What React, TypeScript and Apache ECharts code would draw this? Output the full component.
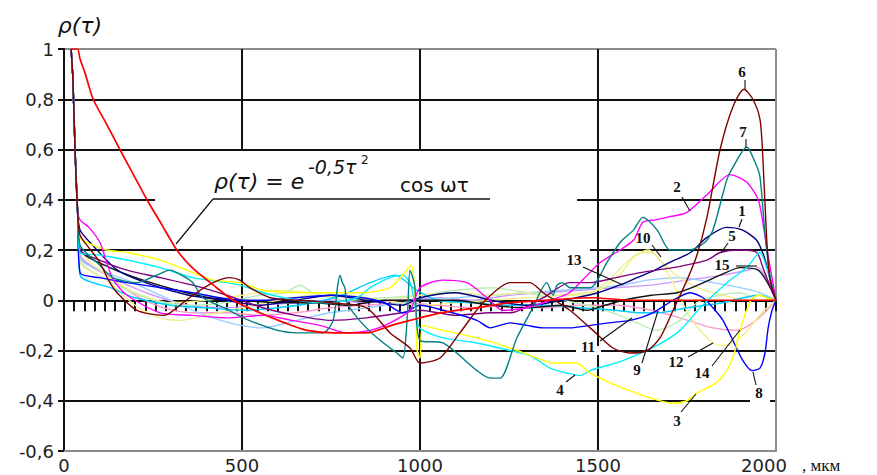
import { useEffect, useRef } from "react";
import * as echarts from "echarts";

type Pt = [number, number];

// Axis ranges and tick steps
const X_RANGE: Pt = [0, 2000];
const Y_RANGE: Pt = [-0.6, 1];
const X_STEP = 500;
const Y_STEP = 0.2;
const ZERO_TICK_COUNT = 70;

// Correlation curves 1..15, the black curve and the theoretical (red) curve
const curve1: Pt[] = [[20,1],[25,0.88],[31,0.6],[38,0.36],[45,0.28],[80,0.22],[150,0.12],[250,0.06],[350,0.02],[450,0.0],[550,-0.02],[650,0.0],[750,0.02],[850,0.0],[950,-0.02],[1000,0.01],[1100,0.03],[1200,0.0],[1300,-0.02],[1400,0.0],[1500,0.03],[1560,0.06],[1610,0.09],[1660,0.12],[1700,0.15],[1760,0.19],[1806,0.25],[1860,0.29],[1905,0.28],[1945,0.24],[1965,0.18],[1985,0.08],[2000,0]];
const curve2: Pt[] = [[20,1],[25,0.88],[31,0.6],[38,0.36],[45,0.32],[70,0.29],[101,0.23],[120,0.15],[139,0.08],[177,0.02],[270,-0.05],[360,-0.06],[457,-0.07],[560,-0.06],[640,-0.08],[719,-0.1],[795,-0.13],[860,-0.12],[916,-0.09],[972,-0.04],[1000,0.05],[1065,0.08],[1132,0.07],[1188,0.01],[1233,-0.04],[1300,-0.03],[1365,0.0],[1420,0.03],[1470,0.1],[1506,0.15],[1562,0.2],[1600,0.24],[1626,0.31],[1660,0.32],[1694,0.33],[1750,0.35],[1806,0.42],[1871,0.5],[1918,0.47],[1950,0.4],[1963,0.31],[1975,0.2],[1990,0.08],[2000,0]];
const curve3: Pt[] = [[20,1],[25,0.88],[31,0.6],[38,0.36],[45,0.25],[80,0.22],[120,0.2],[177,0.19],[270,0.16],[362,0.11],[419,0.08],[494,0.07],[559,0.04],[683,0.03],[747,0.03],[840,0.03],[916,0.05],[963,0.12],[975,0.14],[985,0.05],[992,-0.2],[1000,-0.23],[1008,-0.1],[1065,-0.12],[1160,-0.15],[1253,-0.19],[1329,-0.23],[1374,-0.25],[1440,-0.25],[1478,-0.29],[1570,-0.35],[1650,-0.39],[1711,-0.41],[1750,-0.4],[1778,-0.37],[1830,-0.33],[1862,-0.28],[1885,-0.2],[1899,-0.12],[1915,-0.05],[1930,0.0],[1950,0.02],[1975,0.01],[2000,0]];
const curve4: Pt[] = [[20,1],[25,0.88],[31,0.6],[38,0.36],[45,0.19],[100,0.18],[177,0.16],[270,0.13],[362,0.09],[457,0.07],[494,0.06],[559,0.03],[654,0.0],[740,-0.01],[823,0.01],[860,0.05],[916,0.09],[952,0.1],[975,0.06],[995,-0.1],[1009,-0.12],[1065,-0.15],[1160,-0.17],[1253,-0.2],[1309,-0.22],[1365,-0.27],[1413,-0.29],[1450,-0.3],[1478,-0.28],[1570,-0.24],[1666,-0.18],[1730,-0.12],[1787,-0.03],[1862,0.07],[1918,0.13],[1955,0.19],[1980,0.1],[2000,0]];
const curve5: Pt[] = [[20,1],[25,0.88],[31,0.6],[38,0.36],[45,0.2],[100,0.16],[177,0.12],[270,0.09],[362,0.06],[457,0.02],[559,-0.03],[650,-0.06],[750,-0.08],[850,-0.07],[950,-0.05],[1000,-0.04],[1100,-0.06],[1200,-0.05],[1253,-0.05],[1346,0.01],[1421,0.07],[1478,0.07],[1550,0.09],[1618,0.11],[1711,0.13],[1806,0.16],[1843,0.19],[1899,0.2],[1946,0.19],[1963,0.13],[1985,0.05],[2000,0]];
const curve6: Pt[] = [[20,1],[25,0.88],[31,0.6],[38,0.36],[45,0.26],[75,0.2],[101,0.15],[125,0.08],[149,0.03],[205,-0.04],[278,-0.06],[298,-0.05],[362,0.02],[419,0.07],[466,0.09],[494,0.08],[522,0.05],[579,0.01],[654,0.0],[750,-0.01],[850,-0.03],[916,-0.13],[972,-0.19],[1000,-0.25],[1056,-0.23],[1112,-0.13],[1177,-0.01],[1253,0.07],[1309,0.07],[1346,0.03],[1421,-0.04],[1478,-0.11],[1542,-0.19],[1590,-0.21],[1638,-0.2],[1674,-0.15],[1711,-0.04],[1750,0.08],[1778,0.18],[1806,0.33],[1843,0.6],[1879,0.77],[1910,0.84],[1935,0.8],[1955,0.72],[1963,0.57],[1974,0.24],[1983,0.08],[2000,0]];
const curve7: Pt[] = [[20,1],[25,0.88],[31,0.6],[38,0.36],[45,0.22],[100,0.14],[137,0.09],[205,0.07],[260,0.1],[298,0.12],[330,0.1],[362,0.07],[390,0.01],[450,-0.03],[520,-0.08],[600,-0.12],[654,-0.13],[728,-0.13],[756,-0.08],[768,0.05],[775,0.1],[782,0.07],[789,0.05],[795,-0.01],[830,-0.08],[880,-0.15],[935,-0.21],[952,-0.23],[965,-0.05],[972,0.12],[985,0.06],[1000,-0.16],[1065,-0.17],[1160,-0.28],[1197,-0.31],[1225,-0.31],[1272,-0.15],[1317,-0.03],[1356,0.07],[1374,0.02],[1385,0.06],[1400,0.07],[1421,0.05],[1478,0.05],[1525,0.15],[1562,0.23],[1600,0.28],[1626,0.33],[1666,0.28],[1702,0.2],[1758,0.2],[1800,0.23],[1823,0.28],[1862,0.48],[1879,0.53],[1918,0.61],[1941,0.55],[1955,0.49],[1970,0.25],[1985,0.08],[2000,0]];
const curve8: Pt[] = [[20,1],[25,0.88],[31,0.6],[38,0.36],[45,0.11],[100,0.09],[177,0.07],[270,0.05],[362,0.03],[494,0.0],[559,0.0],[650,0.01],[750,0.02],[840,0.01],[900,-0.01],[952,-0.05],[1000,-0.02],[1065,-0.04],[1160,-0.08],[1197,-0.11],[1253,-0.09],[1300,-0.1],[1346,-0.11],[1421,-0.11],[1478,-0.1],[1530,-0.09],[1590,-0.08],[1654,-0.05],[1711,0.0],[1758,0.03],[1795,0.01],[1823,-0.03],[1851,-0.08],[1879,-0.16],[1907,-0.24],[1933,-0.28],[1955,-0.27],[1969,-0.21],[1978,-0.11],[1989,-0.04],[2000,0]];
const curve9: Pt[] = [[20,1],[25,0.88],[31,0.6],[38,0.36],[45,0.1],[130,0.05],[200,0.01],[300,-0.02],[400,-0.03],[500,-0.04],[600,-0.03],[700,-0.01],[780,0.02],[860,0.07],[930,0.1],[990,0.04],[1050,0.0],[1150,-0.01],[1250,-0.02],[1350,-0.02],[1450,-0.03],[1550,-0.04],[1620,-0.05],[1668,-0.05],[1750,-0.03],[1850,-0.01],[1950,0.02],[2000,0]];
const curve10: Pt[] = [[20,1],[25,0.88],[31,0.6],[38,0.36],[45,0.15],[120,0.08],[200,-0.02],[270,-0.07],[330,-0.08],[400,-0.06],[500,-0.03],[600,0.0],[700,0.02],[800,0.01],[900,0.0],[1000,0.02],[1100,0.03],[1200,0.02],[1300,0.03],[1400,0.02],[1480,0.03],[1530,0.08],[1580,0.15],[1620,0.19],[1650,0.19],[1680,0.15],[1720,0.1],[1780,0.05],[1850,0.02],[1920,0.0],[2000,0]];
const curve11: Pt[] = [[20,1],[25,0.88],[31,0.6],[38,0.36],[45,0.16],[150,0.06],[250,0.0],[350,-0.02],[450,-0.01],[550,0.02],[620,0.03],[663,0.06],[700,0.03],[800,0.0],[900,0.01],[1000,0.02],[1100,0.04],[1200,0.05],[1300,0.03],[1400,0.0],[1500,-0.03],[1560,-0.06],[1610,-0.09],[1666,-0.12],[1730,-0.08],[1778,-0.01],[1840,0.02],[1899,0.03],[1955,0.0],[2000,0]];
const curve12: Pt[] = [[20,1],[25,0.88],[31,0.6],[38,0.36],[45,0.2],[120,0.1],[200,0.03],[300,-0.01],[400,0.0],[500,0.02],[600,0.04],[700,0.03],[800,0.02],[900,0.0],[1000,-0.02],[1100,-0.01],[1200,0.0],[1300,0.01],[1400,0.02],[1500,0.04],[1560,0.1],[1600,0.17],[1640,0.2],[1680,0.15],[1720,0.04],[1760,-0.07],[1800,-0.14],[1840,-0.18],[1880,-0.17],[1920,-0.12],[1960,-0.05],[2000,0]];
const curve13: Pt[] = [[20,1],[25,0.88],[31,0.6],[38,0.36],[45,0.17],[81,0.13],[177,0.08],[270,0.02],[362,-0.04],[466,-0.09],[559,-0.11],[654,-0.08],[747,-0.05],[850,-0.03],[950,-0.01],[1000,0.0],[1100,0.01],[1200,0.02],[1300,0.03],[1400,0.04],[1500,0.05],[1570,0.06],[1638,0.08],[1730,0.09],[1823,0.07],[1899,0.05],[1955,0.03],[2000,0]];
const curve14: Pt[] = [[20,1],[25,0.88],[31,0.6],[38,0.36],[45,0.17],[120,0.1],[200,0.02],[280,-0.03],[362,-0.05],[457,-0.05],[550,-0.06],[650,-0.05],[750,-0.03],[850,-0.02],[950,-0.01],[1050,-0.02],[1150,-0.03],[1250,-0.02],[1350,-0.03],[1450,-0.02],[1550,-0.02],[1650,-0.04],[1730,-0.07],[1823,-0.11],[1890,-0.12],[1935,-0.09],[1974,-0.04],[2000,0]];
const curve15: Pt[] = [[20,1],[25,0.88],[31,0.6],[38,0.36],[45,0.18],[150,0.08],[250,0.02],[350,-0.02],[450,-0.03],[550,-0.02],[650,-0.01],[750,0.0],[850,-0.01],[950,0.0],[1050,0.01],[1150,0.0],[1250,0.02],[1350,0.03],[1450,0.04],[1550,0.05],[1650,0.06],[1750,0.08],[1850,0.1],[1920,0.12],[1950,0.13],[1975,0.08],[2000,0]];
const curveBlack: Pt[] = [[20,1],[25,0.88],[31,0.6],[38,0.36],[45,0.2],[129,0.13],[222,0.08],[317,0.04],[410,0.01],[494,0.0],[600,-0.01],[700,-0.01],[800,-0.02],[900,0.0],[1000,0.0],[1100,0.0],[1200,-0.02],[1300,-0.03],[1400,-0.02],[1469,-0.04],[1520,-0.02],[1570,0.0],[1650,0.02],[1722,0.03],[1780,0.06],[1843,0.1],[1900,0.13],[1950,0.12],[1980,0.06],[2000,0]];
const curveTheory: Pt[] = [[20,1],[38,1],[45,0.96],[60,0.9],[82,0.8],[120,0.7],[157,0.6],[195,0.5],[233,0.4],[275,0.3],[317,0.2],[360,0.13],[420,0.06],[475,0.0],[550,-0.05],[620,-0.09],[683,-0.12],[760,-0.13],[850,-0.13],[920,-0.1],[972,-0.08],[1060,-0.05],[1160,-0.03],[1250,-0.01],[1350,0.0],[1478,0.01],[1600,0.0],[1800,0.0],[1950,0.0],[2000,0.0]];

const curves: { name: string; data: Pt[]; color: string }[] = [
  { name: "14", data: curve14, color: "#ff99cc" },
  { name: "15", data: curve15, color: "#cc99ff" },
  { name: "13", data: curve13, color: "#99ccff" },
  { name: "12", data: curve12, color: "#f4f08a" },
  { name: "11", data: curve11, color: "#b8efb8" },
  { name: "10", data: curve10, color: "#eeee90" },
  { name: "9", data: curve9, color: "#00ccff" },
  { name: "black", data: curveBlack, color: "#111111" },
  { name: "1", data: curve1, color: "#000080" },
  { name: "5", data: curve5, color: "#800080" },
  { name: "8", data: curve8, color: "#0000ff" },
  { name: "4", data: curve4, color: "#00f0ff" },
  { name: "3", data: curve3, color: "#ffff00" },
  { name: "2", data: curve2, color: "#ff00ff" },
  { name: "7", data: curve7, color: "#008080" },
  { name: "6", data: curve6, color: "#800000" },
];

// Curve number labels: text, label centre, leader line start and end
const curveLabels: { text: string; at: Pt; from: Pt; to: Pt }[] = [
  { text: "6", at: [742, 72], from: [745, 80], to: [745, 89] },
  { text: "7", at: [743, 132], from: [746, 139], to: [746, 148] },
  { text: "2", at: [677, 187], from: [682, 197], to: [690, 211] },
  { text: "1", at: [742, 211], from: [742, 219], to: [739, 227] },
  { text: "10", at: [643, 238], from: [652, 245], to: [661, 257] },
  { text: "5", at: [732, 236], from: [728, 243], to: [721, 253] },
  { text: "13", at: [574, 260], from: [583, 267], to: [623, 285] },
  { text: "15", at: [722, 265], from: [736, 266], to: [757, 266] },
  { text: "11", at: [588, 347], from: [600, 341], to: [632, 318] },
  { text: "9", at: [637, 370], from: [642, 363], to: [658, 311] },
  { text: "12", at: [676, 362], from: [688, 357], to: [713, 343] },
  { text: "14", at: [702, 373], from: [712, 366], to: [740, 330] },
  { text: "8", at: [759, 393], from: [756, 385], to: [753, 372] },
  { text: "3", at: [677, 421], from: [681, 412], to: [696, 394] },
  { text: "4", at: [560, 390], from: [566, 382], to: [575, 375] },
];

const fmtY = (v: number) => {
  const r = Math.round(v * 10) / 10;
  if (r === 0) return "0";
  if (r === 1) return "1";
  return r.toFixed(1).replace(".", ",");
};

export default function App() {
  const ref = useRef<HTMLDivElement>(null);

  useEffect(() => {
    if (!ref.current) return;
    const chart = echarts.init(ref.current, undefined, { renderer: "svg" });
    const black = "#111111";
    const grey = "#8c8c8c";
    const labelFont = "DejaVu Sans";

    const graphics: any[] = [
      // clear area behind the formula
      { type: "rect", z: 1, shape: { x: 155, y: 151, width: 422, height: 95 }, style: { fill: "#fff" } },
      { type: "rect", z: 1, shape: { x: 560, y: 247, width: 30, height: 8 }, style: { fill: "#fff" } },
      { type: "rect", z: 1, shape: { x: 576, y: 346, width: 25, height: 9 }, style: { fill: "#fff" } },
      { type: "rect", z: 1, shape: { x: 750, y: 396, width: 20, height: 9 }, style: { fill: "#fff" } },
      // formula and its leader
      { type: "line", z: 10, shape: { x1: 213, y1: 199, x2: 490, y2: 199 }, style: { stroke: black, lineWidth: 1.6 } },
      { type: "line", z: 10, shape: { x1: 213, y1: 199, x2: 176, y2: 244 }, style: { stroke: black, lineWidth: 1.2 } },
      { type: "text", z: 10, x: 214, y: 181, style: { text: "ρ(τ) = e", fontSize: 22, fontFamily: labelFont, fontStyle: "italic", fill: black, align: "left", verticalAlign: "middle" } },
      { type: "text", z: 10, x: 308, y: 167, style: { text: "-0,5τ", fontSize: 19, fontFamily: labelFont, fontStyle: "italic", fill: black, align: "left", verticalAlign: "middle" } },
      { type: "text", z: 10, x: 361, y: 160, style: { text: "2", fontSize: 12, fontFamily: labelFont, fill: black, align: "left", verticalAlign: "middle" } },
      { type: "text", z: 10, x: 400, y: 185, style: { text: "cos ωτ", fontSize: 20, fontFamily: labelFont, fill: black, align: "left", verticalAlign: "middle" } },
      // axis titles
      { type: "text", z: 10, x: 80, y: 25, style: { text: "ρ(τ)", fontSize: 22, fontFamily: labelFont, fontStyle: "italic", fill: black, align: "center", verticalAlign: "middle" } },
      { type: "text", z: 10, x: 802, y: 465, style: { text: ", мкм", fontSize: 17, fontFamily: "Liberation Serif", fill: black, align: "left", verticalAlign: "middle" } },
    ];
    curveLabels.forEach((l) => {
      graphics.push({ type: "line", z: 10, shape: { x1: l.from[0], y1: l.from[1], x2: l.to[0], y2: l.to[1] }, style: { stroke: black, lineWidth: 1.1 } });
      graphics.push({ type: "text", z: 10, x: l.at[0], y: l.at[1], style: { text: l.text, fontSize: 15, fontFamily: "Liberation Serif", fontWeight: "bold", fill: black, align: "center", verticalAlign: "middle" } });
    });

    const ySplitColors = [grey, black, black, black, black, black, black, black, grey];

    chart.setOption({
      animation: false,
      backgroundColor: "#fff",
      grid: { left: 64, right: 101, top: 49, bottom: 24, containLabel: false },
      xAxis: [
        {
          type: "value", min: X_RANGE[0], max: X_RANGE[1], interval: X_STEP, position: "bottom",
          axisLine: { show: true, onZero: false, lineStyle: { color: grey, width: 2 } },
          axisTick: { show: false },
          axisLabel: {
            fontFamily: labelFont, fontSize: 18, color: "#222", margin: 5,
            formatter: (v: number) => (v === X_RANGE[1] ? "{e|" + v + "}" : String(v)),
            rich: { e: { fontFamily: labelFont, fontSize: 18, color: "#222", padding: [0, 24, 0, 0] } },
          },
          splitLine: { show: true, lineStyle: { color: [black, black, black, black, grey], width: 2 } },
        },
        {
          type: "value", min: X_RANGE[0], max: X_RANGE[1], interval: (X_RANGE[1] - X_RANGE[0]) / ZERO_TICK_COUNT, position: "top",
          axisLine: { show: true, onZero: true, onZeroAxisIndex: 0, lineStyle: { color: black, width: 1.6 } },
          axisTick: { show: true, inside: true, length: 11, lineStyle: { color: black, width: 2 } },
          axisLabel: { show: false },
          splitLine: { show: false },
        },
      ],
      yAxis: {
        type: "value", min: Y_RANGE[0], max: Y_RANGE[1], interval: Y_STEP,
        axisLine: { show: true, onZero: false, lineStyle: { color: black, width: 2 } },
        axisTick: { show: true, length: 6, lineStyle: { color: black, width: 2 } },
        axisLabel: { fontFamily: labelFont, fontSize: 18, color: "#222", margin: 10, formatter: fmtY },
        splitLine: { show: true, lineStyle: { color: ySplitColors, width: 2 } },
      },
      series: [
        ...curves.map((c) => ({
          type: "line", name: c.name, data: c.data, xAxisIndex: 0, yAxisIndex: 0,
          showSymbol: false, smooth: 0.25, silent: true, z: 2,
          lineStyle: { color: c.color, width: 1.4 }, itemStyle: { color: c.color },
        })),
        {
          type: "line", name: "theory", data: curveTheory, xAxisIndex: 0, yAxisIndex: 0,
          showSymbol: false, smooth: 0.25, silent: true, z: 3,
          lineStyle: { color: "#ff0000", width: 1.7 }, itemStyle: { color: "#ff0000" },
        },
      ],
      graphic: graphics,
    });
    return () => chart.dispose();
  }, []);

  return <div ref={ref} style={{ position: "fixed", left: 0, top: 0, width: 877, height: 475 }} />;
}
